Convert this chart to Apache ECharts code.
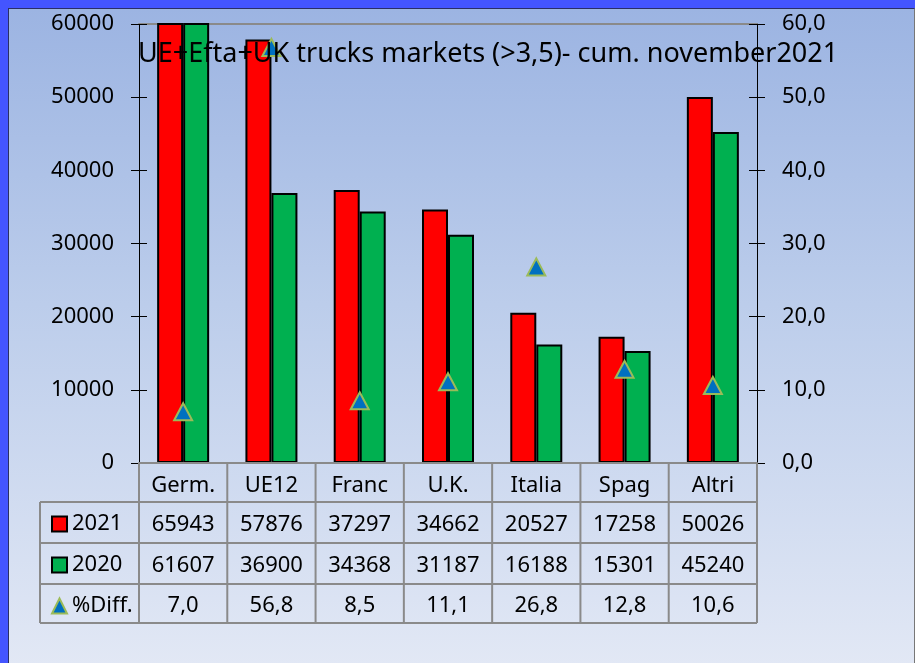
<!DOCTYPE html>
<html>
<head>
<meta charset="utf-8">
<script src="https://cdn.jsdelivr.net/npm/echarts@6/dist/echarts.min.js"></script>
<style>
  html, body { margin: 0; padding: 0; }
  #frame { position: relative; width: 915px; height: 663px; background: #4455ff; overflow: hidden; }
  #inner {
    position: absolute; left: 8px; top: 8px; right: 0; bottom: -2px;
    border-top: 1px solid #2a2f66; border-left: 1px solid #2a2f66; border-right: 1px solid #777;
    background: linear-gradient(to bottom, #9cb4e2 0%, #bccdeb 45%, #e2e8f5 100%);
  }
  #chart { position: absolute; left: 0; top: 0; width: 915px; height: 663px; }
</style>
</head>
<body>
<div id="frame">
  <div id="inner"></div>
  <div id="chart"></div>
</div>
<script>
// data
const categories = ['Germ.', 'UE12', 'Franc', 'U.K.', 'Italia', 'Spag', 'Altri'];
const values2021 = [65943, 57876, 37297, 34662, 20527, 17258, 50026];
const values2020 = [61607, 36900, 34368, 31187, 16188, 15301, 45240];
const diffPct = [7.0, 56.8, 8.5, 11.1, 26.8, 12.8, 10.6];
const leftTicks = [0, 10000, 20000, 30000, 40000, 50000, 60000];

const FONT = '"Noto Sans", sans-serif';
const gridLeft = 139, gridRight = 757, gridTop = 24, gridBottom = 463;
const tableLeft = 40;
const rowLines = [463, 502, 543, 584, 623];
const colW = (gridRight - gridLeft) / categories.length;

const fmtComma = v => v.toFixed(1).replace('.', ',');

// table borders
const lineStyle = { stroke: '#8a8a8a', lineWidth: 2 };
const tableLines = [];
rowLines.forEach((y, i) => {
  tableLines.push({ type: 'line', shape: { x1: i === 0 ? gridLeft : tableLeft, y1: y, x2: gridRight, y2: y }, style: lineStyle, z: 10 });
});
tableLines.push({ type: 'line', shape: { x1: tableLeft, y1: rowLines[1], x2: tableLeft, y2: rowLines[4] }, style: lineStyle, z: 10 });
for (let k = 0; k <= categories.length; k++) {
  const x = gridLeft + k * colW;
  tableLines.push({ type: 'line', shape: { x1: x, y1: rowLines[0], x2: x, y2: rowLines[4] }, style: lineStyle, z: 10 });
}

const chart = echarts.init(document.getElementById('chart'));

function valueAxis(rows, margin) {
  return {
    type: 'category', position: 'bottom', gridIndex: 0, data: categories,
    axisLine: { show: false }, axisTick: { show: false },
    axisLabel: {
      margin: margin, fontSize: 22, fontFamily: FONT, color: '#000', verticalAlign: 'middle',
      interval: 0, formatter: (v, idx) => rows[idx]
    }
  };
}

const option = {
  animation: false,
  title: {
    text: 'UE+Efta+UK trucks markets (>3,5)- cum. november2021',
    left: 133, top: 36,
    textStyle: { fontSize: 27, fontWeight: 'normal', color: '#000', fontFamily: FONT }
  },
  legend: {
    orient: 'vertical', left: 46, top: 508,
    itemWidth: 15, itemHeight: 15, itemGap: 19,
    textStyle: { fontSize: 22, lineHeight: 22, color: '#000', fontFamily: FONT },
    data: [
      { name: '2021', icon: 'rect' },
      { name: '2020', icon: 'rect' },
      { name: '%Diff.', icon: 'triangle' }
    ]
  },
  grid: { left: gridLeft, right: 915 - gridRight, top: gridTop, bottom: 663 - gridBottom, containLabel: false },
  xAxis: [
    {
      type: 'category', position: 'bottom', data: categories,
      axisLine: { lineStyle: { color: '#8a8a8a', width: 2 } },
      axisTick: { show: false },
      axisLabel: { margin: 23, fontSize: 22, fontFamily: FONT, color: '#000', verticalAlign: 'middle', interval: 0 }
    },
    valueAxis(values2021.map(String), 62),
    valueAxis(values2020.map(String), 103),
    valueAxis(diffPct.map(fmtComma), 143),
    {
      type: 'category', position: 'top', data: categories,
      axisLine: { lineStyle: { color: '#8a8a8a', width: 2 } },
      axisTick: { show: false }, axisLabel: { show: false }
    }
  ],
  yAxis: [
    {
      type: 'value', position: 'left', min: 0, max: 60000, interval: 10000,
      axisLine: { show: true, lineStyle: { color: '#000', width: 1 } },
      axisTick: { show: true, length: 8, lineStyle: { color: '#000' } },
      axisLabel: { margin: 25, fontSize: 22, fontFamily: FONT, color: '#000',
        formatter: v => leftTicks.includes(v) ? String(v) : '' },
      splitLine: { show: false }
    },
    {
      type: 'value', position: 'right', min: 0, max: 60, interval: 10,
      axisLine: { show: true, lineStyle: { color: '#000', width: 1 } },
      axisTick: { show: true, length: 8, lineStyle: { color: '#000' } },
      axisLabel: { margin: 25, fontSize: 22, fontFamily: FONT, color: '#000', formatter: v => fmtComma(v) },
      splitLine: { show: false }
    },
    {
      type: 'value', position: 'left', min: 0, max: 60000, interval: 10000,
      axisLine: { show: false }, axisLabel: { show: false }, splitLine: { show: false },
      axisTick: { show: true, inside: true, length: 8, lineStyle: { color: '#000' } }
    },
    {
      type: 'value', position: 'right', min: 0, max: 60, interval: 10,
      axisLine: { show: false }, axisLabel: { show: false }, splitLine: { show: false },
      axisTick: { show: true, inside: true, length: 8, lineStyle: { color: '#000' } }
    }
  ],
  series: [
    {
      name: '2021', type: 'bar', data: values2021, barWidth: 26, barGap: '0%',
      itemStyle: { color: '#ff0000', borderColor: '#000', borderWidth: 2 }
    },
    {
      name: '2020', type: 'bar', data: values2020, barWidth: 26, barGap: '0%',
      itemStyle: { color: '#00b050', borderColor: '#000', borderWidth: 2 }
    },
    {
      name: '%Diff.', type: 'scatter', yAxisIndex: 1, data: diffPct, z: 5,
      symbol: 'triangle', symbolSize: [18, 17],
      itemStyle: { color: '#0070c0', borderColor: '#9bbb59', borderWidth: 2, opacity: 1 }
    }
  ],
  graphic: tableLines
};

chart.setOption(option);
</script>
</body>
</html>
